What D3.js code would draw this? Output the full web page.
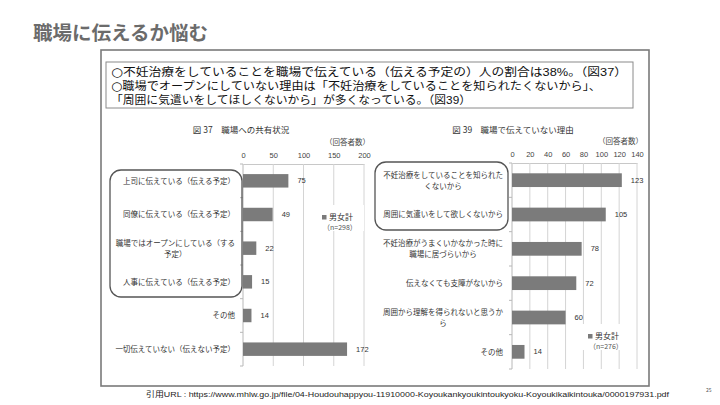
<!DOCTYPE html>
<html><head><meta charset="utf-8">
<script src="https://cdn.jsdelivr.net/npm/d3@7"></script>
<style>
html,body{margin:0;padding:0;background:#fff;}
svg{display:block;font-family:"Noto Sans CJK JP","Noto Sans",sans-serif;}
</style></head>
<body>
<script>
// ---------- data ----------
const pageTitle = "職場に伝えるか悩む";
const summaryLines = [
  "○不妊治療をしていることを職場で伝えている（伝える予定の）人の割合は38%。（図37）",
  "○職場でオープンにしていない理由は「不妊治療をしていることを知られたくないから」、",
  "「周囲に気遣いをしてほしくないから」が多くなっている。（図39）"
];
const fig37Title = "図 37　職場への共有状況";
const fig37Categories = [
  ["上司に伝えている（伝える予定）"],
  ["同僚に伝えている（伝える予定）"],
  ["職場ではオープンにしている（する", "予定）"],
  ["人事に伝えている（伝える予定）"],
  ["その他"],
  ["一切伝えていない（伝えない予定）"]
];
const fig37Values = [75, 49, 22, 15, 14, 172];
const fig37Ticks = [0, 50, 100, 150, 200];
const fig37Legend = ["男女計", "（n=298）"];

const fig39Title = "図 39　職場で伝えていない理由";
const fig39Categories = [
  ["不妊治療をしていることを知られた", "くないから"],
  ["周囲に気遣いをして欲しくないから"],
  ["不妊治療がうまくいかなかった時に", "職場に居づらいから"],
  ["伝えなくても支障がないから"],
  ["周囲から理解を得られないと思うか", "ら"],
  ["その他"]
];
const fig39Values = [123, 105, 78, 72, 60, 14];
const fig39Ticks = [0, 20, 40, 60, 80, 100, 120, 140];
const fig39Legend = ["男女計", "（n=276）"];
const unitLabel = "（回答者数）";
const footer = "引用URL : https://www.mhlw.go.jp/file/04-Houdouhappyou-11910000-Koyoukankyoukintoukyoku-Koyoukikaikintouka/0000197931.pdf";
const pageNo = "25";

// ---------- drawing ----------
const W = 720, H = 405;
const svg = d3.select("body").append("svg").attr("width", W).attr("height", H);

svg.append("text").attr("x", 33).attr("y", 40)
  .attr("font-size", 19.5).attr("font-weight", 700).attr("fill", "#6b6b6b")
  .text(pageTitle);

// outer frame
svg.append("rect").attr("x", 101).attr("y", 50).attr("width", 548).attr("height", 336)
  .attr("fill", "none").attr("stroke", "#7a7a7a").attr("stroke-width", 1.6);
// summary box
svg.append("rect").attr("x", 106).attr("y", 62).attr("width", 527).attr("height", 46)
  .attr("fill", "none").attr("stroke", "#8a8a8a").attr("stroke-width", 1);
const lineLens = [516, 490, 360];
summaryLines.forEach((t, i) => {
  const tx = svg.append("text").attr("x", 111).attr("y", 76 + i * 13.8)
    .attr("font-size", 11.2).attr("fill", "#111")
    .attr("font-family", "'Liberation Sans','Noto Sans CJK JP',sans-serif")
    .attr("textLength", lineLens[i]).attr("lengthAdjust", "spacingAndGlyphs");
  if (t.startsWith("○")) {
    tx.append("tspan").attr("font-family", "'DejaVu Sans',sans-serif").attr("font-size", 12).text("○");
    tx.append("tspan").text(t.slice(1));
  } else {
    tx.text(t);
  }
});

const barColor = "#7b7b7b";
const gridColor = "#d4d4d4";

function drawChart(opt) {
  const g = svg.append("g");
  const x = d3.scaleLinear().domain([opt.ticks[0], opt.ticks[opt.ticks.length - 1]]).range(opt.xRange);
  const y = d3.scaleBand().domain(d3.range(opt.values.length)).range(opt.yRange)
    .paddingInner(0.6).paddingOuter(0.3);

  // title
  g.append("text").attr("x", opt.titleX).attr("y", opt.titleY).attr("text-anchor", "middle")
    .attr("font-size", 8.5).attr("fill", "#333").text(opt.title);
  g.append("text").attr("x", opt.xRange[1] + 6).attr("y", opt.yRange[0] - 19).attr("text-anchor", "end")
    .attr("font-size", 7.5).attr("fill", "#444").text(unitLabel);

  // grid + top axis
  const axis = d3.axisTop(x).tickValues(opt.ticks).tickSize(0).tickPadding(6);
  const ag = g.append("g").attr("transform", `translate(0,${opt.yRange[0]})`).call(axis);
  ag.select(".domain").attr("stroke", "#c8c8c8");
  ag.selectAll("text").attr("font-size", 7.5).attr("fill", "#444")
    .attr("font-family", "'Liberation Sans',sans-serif");
  g.selectAll(".grid").data(opt.ticks.slice(1)).join("line")
    .attr("x1", d => x(d)).attr("x2", d => x(d))
    .attr("y1", opt.yRange[0]).attr("y2", opt.yRange[1]).attr("stroke", gridColor).attr("stroke-width", 1);
  // left axis with tick marks between categories
  const bounds = d3.range(opt.values.length + 1).map(i => opt.yRange[0] + i * (opt.yRange[1] - opt.yRange[0]) / opt.values.length);
  g.append("line").attr("x1", x(0)).attr("x2", x(0)).attr("y1", opt.yRange[0]).attr("y2", opt.yRange[1])
    .attr("stroke", "#b8b8b8");
  g.selectAll(".lt").data(bounds).join("line")
    .attr("x1", x(0) - 3).attr("x2", x(0)).attr("y1", d => d).attr("y2", d => d).attr("stroke", "#b8b8b8");

  // bars
  g.selectAll(".bar").data(opt.values).join("rect")
    .attr("x", x(0)).attr("y", (d, i) => y(i)).attr("width", d => x(d) - x(0))
    .attr("height", y.bandwidth()).attr("fill", barColor);
  g.selectAll(".val").data(opt.values).join("text")
    .attr("x", d => x(d) + 9).attr("y", (d, i) => y(i) + y.bandwidth() / 2 + 2.5)
    .attr("font-size", 7.5).attr("fill", "#333").attr("font-family", "'Liberation Sans',sans-serif")
    .text(d => d);

  // category labels (wrapped labels centred on the first line)
  opt.categories.forEach((lines, i) => {
    const cy = y(i) + y.bandwidth() / 2;
    if (lines.length === 1) {
      g.append("text").attr("x", opt.labelX).attr("y", cy + 2.7).attr("text-anchor", "end")
        .attr("font-size", 7.5).attr("fill", "#333").text(lines[0]);
    } else {
      const t1 = g.append("text").attr("x", opt.labelX).attr("y", cy - 2.5).attr("text-anchor", "end")
        .attr("font-size", 7.5).attr("fill", "#333").text(lines[0]);
      const w1 = t1.node().getComputedTextLength();
      g.append("text").attr("x", opt.labelX - w1 / 2).attr("y", cy + 8.5).attr("text-anchor", "middle")
        .attr("font-size", 7.5).attr("fill", "#333").text(lines[1]);
    }
  });

  // rounded highlight box
  g.append("rect").attr("x", opt.box[0]).attr("y", opt.box[1]).attr("width", opt.box[2]).attr("height", opt.box[3])
    .attr("rx", 11).attr("ry", 11).attr("fill", "none").attr("stroke", "#555").attr("stroke-width", 1.3);

  // legend
  const lg = g.append("g");
  lg.append("rect").attr("x", opt.legend[0] - 8).attr("y", opt.legend[1] - 19).attr("width", 50).attr("height", 26).attr("fill", "#fff");
  lg.append("rect").attr("x", opt.legend[0]).attr("y", opt.legend[1] - 9).attr("width", 4.5).attr("height", 4.5).attr("fill", barColor);
  lg.append("text").attr("x", opt.legend[0] + 7).attr("y", opt.legend[1] - 4).attr("font-size", 8).attr("fill", "#333").text(opt.legendText[0]);
  lg.append("text").attr("x", opt.legend[0] + 1).attr("y", opt.legend[1] + 6).attr("font-size", 7).attr("fill", "#555").text(opt.legendText[1]);
}

drawChart({
  title: fig37Title, titleX: 241, titleY: 133,
  categories: fig37Categories, values: fig37Values, ticks: fig37Ticks,
  xRange: [243, 364], yRange: [164, 366], labelX: 235,
  box: [110, 170, 132, 127], legend: [322, 224], legendText: fig37Legend
});
drawChart({
  title: fig39Title, titleX: 513, titleY: 133,
  categories: fig39Categories, values: fig39Values, ticks: fig39Ticks,
  xRange: [512, 637], yRange: [163, 369], labelX: 503,
  box: [375, 162, 133, 68], legend: [588, 343], legendText: fig39Legend
});

svg.append("text").attr("x", 146).attr("y", 397).attr("font-size", 7.6).attr("fill", "#222")
  .attr("font-family", "'Liberation Sans','Noto Sans CJK JP',sans-serif")
  .attr("textLength", 523).attr("lengthAdjust", "spacingAndGlyphs").text(footer);
svg.append("text").attr("x", 706).attr("y", 392).attr("font-size", 5).attr("fill", "#555").text(pageNo);
</script>
</body></html>
